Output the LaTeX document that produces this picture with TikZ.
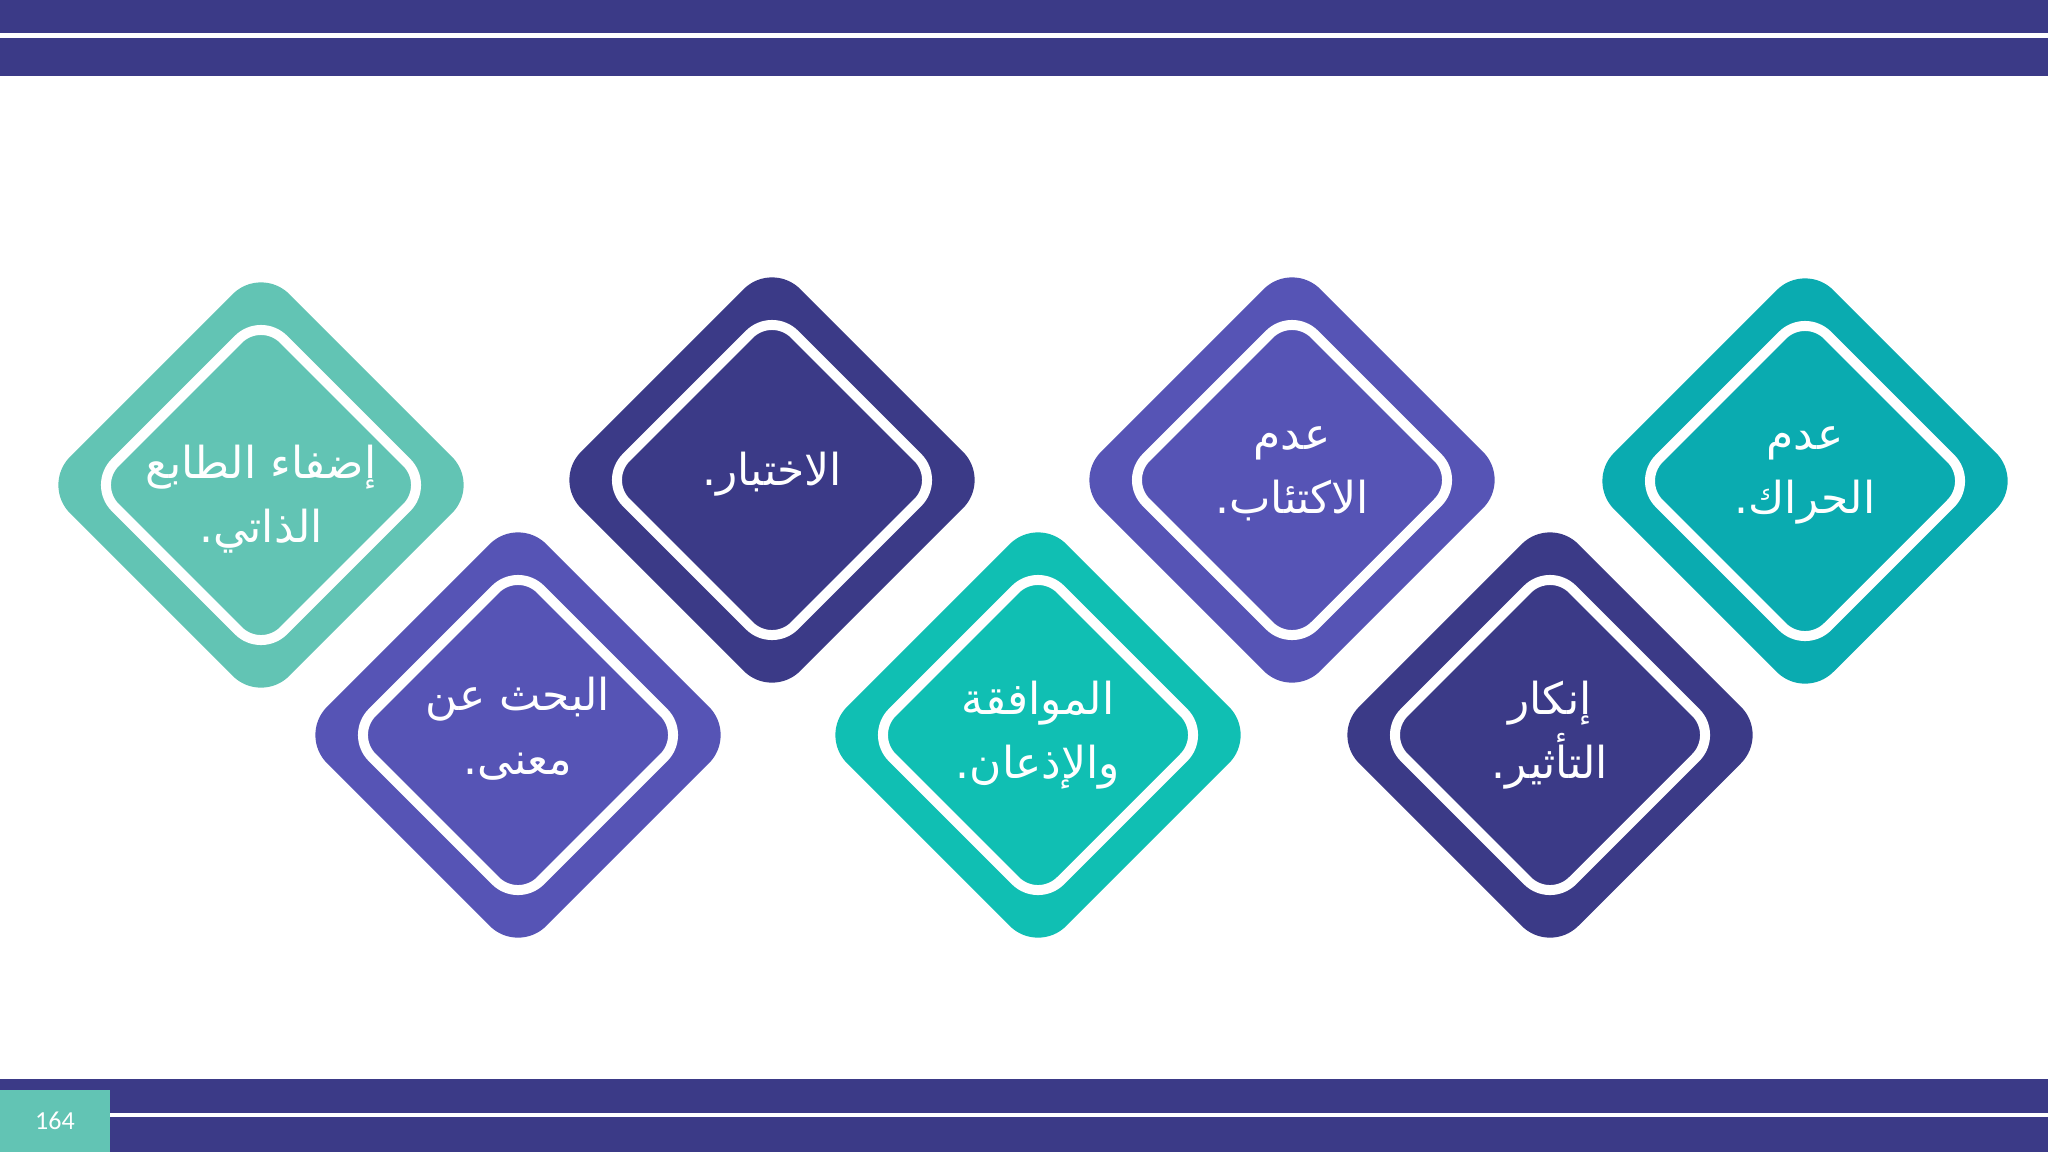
\documentclass[tikz,border=0pt]{standalone}
\usepackage{fontspec}
\setmainfont{Carlito}
\newfontfamily\arabicfont[Script=Arabic]{DejaVu Sans}
\TeXXeTstate=1
\newcommand{\artext}[1]{\beginR #1\endR}
\definecolor{cnavy}{HTML}{3B3A87}
\definecolor{cviolet}{HTML}{5654B5}
\definecolor{cmint}{HTML}{62C4B4}
\definecolor{cturq}{HTML}{10BFB3}
\definecolor{cteal}{HTML}{0AABB0}
\begin{document}
\begin{tikzpicture}[x=0.5pt, y=-0.5pt, line join=round, line cap=round,
	hop/.style={draw=none, rotate=45, minimum size=155pt, rounded corners=20pt, inner sep=0pt},
	vien/.style={draw=white, line width=5pt, rotate=45, minimum size=119pt, rounded corners=16pt, inner sep=0pt},
	chu/.style={text=white, font=\arabicfont\fontsize{22}{32}\selectfont, align=center, yshift=3pt}]
				%Khung trang.
				\useasboundingbox (0,0) rectangle (2048,1152);
				%Thanh trên.
				\fill[cnavy] (0,0) rectangle (2048,33);
				\fill[cnavy] (0,38) rectangle (2048,76);
				%Thanh dưới.
				\fill[cnavy] (0,1079) rectangle (2048,1152);
				\fill[white] (110,1113) rectangle (2048,1117);
				\fill[cmint] (0,1090) rectangle (110,1152);
				\node[text=white, font=\fontsize{13}{15}\selectfont] (so) at (55,1121) {164};
				%Hình thoi 1.
				\node[hop, fill=cmint] (d1) at (261,485) {};
				\node[vien] (v1) at (d1) {};
				\node[chu, yshift=-10pt] (t1) at (d1) {\artext{إضفاء الطابع}\\\artext{الذاتي.}};
				%Hình thoi 2.
				\node[hop, fill=cviolet] (d2) at (518,735) {};
				\node[vien] (v2) at (d2) {};
				\node[chu] (t2) at (d2) {\artext{البحث عن}\\\artext{معنى.}};
				%Hình thoi 3.
				\node[hop, fill=cnavy] (d3) at (772,480) {};
				\node[vien] (v3) at (d3) {};
				\node[chu] (t3) at (d3) {\artext{الاختبار.}};
				%Hình thoi 4.
				\node[hop, fill=cturq] (d4) at (1038,735) {};
				\node[vien] (v4) at (d4) {};
				\node[chu, yshift=-3pt] (t4) at (d4) {\artext{الموافقة}\\\artext{والإذعان.}};
				%Hình thoi 5.
				\node[hop, fill=cviolet] (d5) at (1292,480) {};
				\node[vien] (v5) at (d5) {};
				\node[chu] (t5) at (d5) {\artext{عدم}\\\artext{الاكتئاب.}};
				%Hình thoi 6.
				\node[hop, fill=cnavy] (d6) at (1550,735) {};
				\node[vien] (v6) at (d6) {};
				\node[chu, yshift=-3pt] (t6) at (d6) {\artext{إنكار}\\\artext{التأثير.}};
				%Hình thoi 7.
				\node[hop, fill=cteal] (d7) at (1805,481) {};
				\node[vien] (v7) at (d7) {};
				\node[chu] (t7) at (d7) {\artext{عدم}\\\artext{الحراك.}};
\end{tikzpicture}
\end{document}
